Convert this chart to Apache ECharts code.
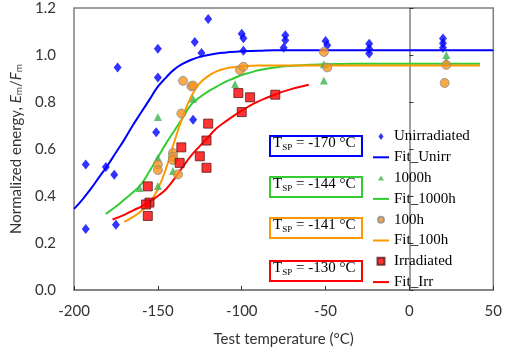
<!DOCTYPE html>
<html>
<head>
<meta charset="utf-8">
<script src="https://cdn.jsdelivr.net/npm/echarts@6/dist/echarts.min.js"></script>
<style>
  html, body { margin: 0; padding: 0; background: #fff; }
  #chart { width: 505px; height: 352px; }
</style>
</head>
<body>
<div id="chart"></div>
<script>
// measured points (temperature in C, normalized energy)
var unirrT = [-193, -181, -176, -193, -175, -174, -151, -150, -150, -129, -128, -124, -120, -100, -99, -99, -74, -74, -75, -50, -49, -24, -24, -24, 20, 20, 20];
var unirrE = [0.534, 0.523, 0.49, 0.26, 0.278, 0.947, 0.671, 1.027, 0.904, 0.725, 1.055, 1.008, 1.153, 1.09, 1.071, 1.018, 1.084, 1.063, 1.031, 1.06, 1.042, 1.048, 1.027, 1.006, 1.07, 1.05, 1.031];

var h1000T = [-161, -150, -150, -150, -141, -129, -104, -51, -51, 22, 22];
var h1000E = [0.434, 0.443, 0.562, 0.736, 0.506, 0.814, 0.876, 0.961, 0.891, 1.0, 0.975];

var h100T = [-150, -150, -141, -141, -141, -138, -136, -135, -130, -129, -101, -99, -51, -49, 22, 21];
var h100E = [0.534, 0.51, 0.583, 0.567, 0.553, 0.492, 0.751, 0.89, 0.867, 0.87, 0.936, 0.95, 1.013, 0.947, 0.958, 0.881];

var irrT = [-156, -155, -157, -156, -137, -136, -125, -121, -121, -120, -102, -100, -95, -80];
var irrE = [0.441, 0.372, 0.364, 0.315, 0.541, 0.607, 0.569, 0.52, 0.636, 0.708, 0.838, 0.757, 0.82, 0.831];

// fitted curves
var fitUnirrT = [-200, -195, -190, -185, -180, -175, -170, -165, -160, -155, -150, -145, -140, -135, -130, -125, -120, -115, -110, -100, -90, -80, -60, -40, -20, 0, 20, 40, 50];
var fitUnirrE = [0.345, 0.385, 0.43, 0.48, 0.53, 0.585, 0.64, 0.70, 0.755, 0.81, 0.865, 0.905, 0.94, 0.963, 0.98, 0.992, 1.0, 1.006, 1.01, 1.016, 1.018, 1.02, 1.02, 1.02, 1.02, 1.02, 1.02, 1.02, 1.02];

var fit1000T = [-181, -175, -170, -165, -160, -155, -150, -145, -140, -135, -130, -125, -120, -115, -110, -105, -100, -95, -90, -80, -70, -60, -50, -40, -20, 0, 20, 42];
var fit1000E = [0.324, 0.355, 0.385, 0.415, 0.45, 0.505, 0.565, 0.625, 0.68, 0.735, 0.79, 0.82, 0.845, 0.865, 0.885, 0.9, 0.915, 0.925, 0.935, 0.947, 0.954, 0.958, 0.961, 0.962, 0.963, 0.963, 0.963, 0.963];

var fit100T = [-170, -165, -160, -155, -150, -145, -140, -135, -130, -125, -120, -115, -110, -105, -100, -90, -80, -60, -40, -20, 0, 20, 42];
var fit100E = [0.29, 0.31, 0.335, 0.37, 0.43, 0.52, 0.635, 0.74, 0.825, 0.88, 0.91, 0.93, 0.942, 0.948, 0.952, 0.955, 0.955, 0.955, 0.955, 0.955, 0.955, 0.955, 0.955];

var fitIrrT = [-177, -170, -165, -160, -155, -150, -145, -140, -135, -130, -125, -120, -115, -110, -105, -100, -95, -90, -85, -80, -75, -70, -65, -60];
var fitIrrE = [0.30, 0.32, 0.338, 0.355, 0.375, 0.40, 0.43, 0.475, 0.525, 0.573, 0.612, 0.65, 0.688, 0.715, 0.74, 0.763, 0.785, 0.803, 0.818, 0.832, 0.845, 0.856, 0.865, 0.873];

var tspLabels = ['-170', '-144', '-141', '-130'];

function pairs(xs, ys) {
  return xs.map(function (x, i) { return [x, ys[i]]; });
}

var chart = echarts.init(document.getElementById('chart'), null, { renderer: 'canvas' });

var sans = 'Lato';
var serif = 'Liberation Serif';
var axisGrey = '#7f7f7f';

// legend icons: the leading moves pin the box to 16x8 so small marks stay small
var box = 'path://M0,0 M16,8 ';
var lineIcon = box + 'M0,3 L16,3 L16,5 L0,5 Z';
var diamondIcon = box + 'M8,0.5 L10.5,4 L8,7.5 L5.5,4 Z';
var triIcon = box + 'M8,1.5 L11,6.5 L5,6.5 Z';
var circleIcon = box + 'M5,4 A3,3 0 1,0 11,4 A3,3 0 1,0 5,4 Z';
var squareIcon = box + 'M4.5,0.5 L11.5,0.5 L11.5,7.5 L4.5,7.5 Z';

// T_SP boxes on the right-middle
var boxColors = ['#0000ff', '#33cc33', '#ff9900', '#ff0000'];
var boxTops = [135, 176, 217, 260];
var graphics = [];
tspLabels.forEach(function (lab, i) {
  graphics.push({
    type: 'rect',
    left: 269, top: boxTops[i],
    shape: { width: 92, height: 20 },
    style: { fill: '#fff', stroke: boxColors[i], lineWidth: 2 },
    z: 10
  });
  graphics.push({
    type: 'text',
    left: 273, top: boxTops[i] + 1,
    style: {
      text: '{t|T}{s|SP}{t| = ' + lab + ' °C}',
      rich: {
        t: { fontFamily: serif, fontSize: 15, lineHeight: 18, fill: '#000' },
        s: { fontFamily: serif, fontSize: 9, lineHeight: 18, verticalAlign: 'bottom', fill: '#000', padding: [6, 0, 0, 0] }
      }
    },
    z: 11
  });
});

var option = {
  animation: false,
  grid: {
    left: 74, right: 11, top: 8, bottom: 58,
    show: true, borderColor: axisGrey, borderWidth: 1.5
  },
  legend: {
    orient: 'vertical',
    left: 367, top: 124,
    itemWidth: 16, itemHeight: 8, itemGap: 5.8,
    symbolKeepAspect: true,
    textStyle: { fontFamily: serif, fontSize: 15, lineHeight: 15, color: '#000' },
    data: [
      { name: 'Unirradiated', icon: diamondIcon },
      { name: 'Fit_Unirr', icon: lineIcon },
      { name: '1000h', icon: triIcon },
      { name: 'Fit_1000h', icon: lineIcon },
      { name: '100h', icon: circleIcon },
      { name: 'Fit_100h', icon: lineIcon },
      { name: 'Irradiated', icon: squareIcon },
      { name: 'Fit_Irr', icon: lineIcon }
    ]
  },
  xAxis: {
    type: 'value',
    min: -200, max: 50, interval: 50,
    name: 'Test temperature (°C)',
    nameLocation: 'middle', nameGap: 42,
    nameTextStyle: { fontFamily: sans, fontSize: 15, color: '#333' },
    axisLine: { show: true, onZero: false, lineStyle: { color: axisGrey, width: 1.5 } },
    axisTick: { show: true, inside: true, length: 4, lineStyle: { color: '#333' } },
    axisLabel: { margin: 14, fontFamily: sans, fontSize: 15, color: '#333' },
    splitLine: { show: false }
  },
  yAxis: {
    type: 'value',
    min: 0, max: 1.2, interval: 0.2,
    name: '{n|Normalized energy, }{i|E}{s|m}{n|/}{i|F}{s|m}',
    nameLocation: 'middle', nameGap: 45, nameRotate: 90,
    nameTextStyle: {
      rich: {
        n: { fontFamily: sans, fontSize: 15, color: '#333' },
        i: { fontFamily: sans, fontSize: 15, fontStyle: 'italic', color: '#333' },
        s: { fontFamily: sans, fontSize: 10, color: '#333', verticalAlign: 'bottom', padding: [6, 0, 0, 0] }
      }
    },
    axisLine: { show: true, lineStyle: { color: axisGrey, width: 1.5 } },
    axisTick: { show: true, inside: true, length: 4, lineStyle: { color: '#333' } },
    axisLabel: {
      margin: 18, fontFamily: sans, fontSize: 15, color: '#333',
      formatter: function (v) { return v.toFixed(1); }
    },
    splitLine: { show: false }
  },
  series: [
    {
      name: 'Unirradiated', type: 'scatter', symbol: 'diamond', symbolSize: [8, 10],
      itemStyle: { color: '#0000ff' },
      data: pairs(unirrT, unirrE), z: 5
    },
    {
      name: 'Fit_Unirr', type: 'line', smooth: true, symbol: 'none',
      lineStyle: { color: '#0000ff', width: 2 }, itemStyle: { color: '#0000ff' },
      data: pairs(fitUnirrT, fitUnirrE), z: 3
    },
    {
      name: '1000h', type: 'scatter', symbol: 'triangle', symbolSize: 8,
      itemStyle: { color: '#3cb44b' },
      data: pairs(h1000T, h1000E), z: 5
    },
    {
      name: 'Fit_1000h', type: 'line', smooth: true, symbol: 'none',
      lineStyle: { color: '#33cc33', width: 2 }, itemStyle: { color: '#33cc33' },
      data: pairs(fit1000T, fit1000E), z: 3
    },
    {
      name: '100h', type: 'scatter', symbol: 'circle', symbolSize: 9,
      itemStyle: { color: '#f7941d', borderColor: '#8c8c8c', borderWidth: 1 },
      data: pairs(h100T, h100E), z: 5
    },
    {
      name: 'Fit_100h', type: 'line', smooth: true, symbol: 'none',
      lineStyle: { color: '#ff9900', width: 2 }, itemStyle: { color: '#ff9900' },
      data: pairs(fit100T, fit100E), z: 4
    },
    {
      name: 'Irradiated', type: 'scatter', symbol: 'rect', symbolSize: 9,
      itemStyle: { color: '#ff0000', borderColor: '#5a1a1a', borderWidth: 1 },
      data: pairs(irrT, irrE), z: 5
    },
    {
      name: 'Fit_Irr', type: 'line', smooth: true, symbol: 'none',
      lineStyle: { color: '#ff0000', width: 2 }, itemStyle: { color: '#ff0000' },
      data: pairs(fitIrrT, fitIrrE), z: 4
    }
  ],
  graphic: graphics
};

chart.setOption(option);
</script>
</body>
</html>
